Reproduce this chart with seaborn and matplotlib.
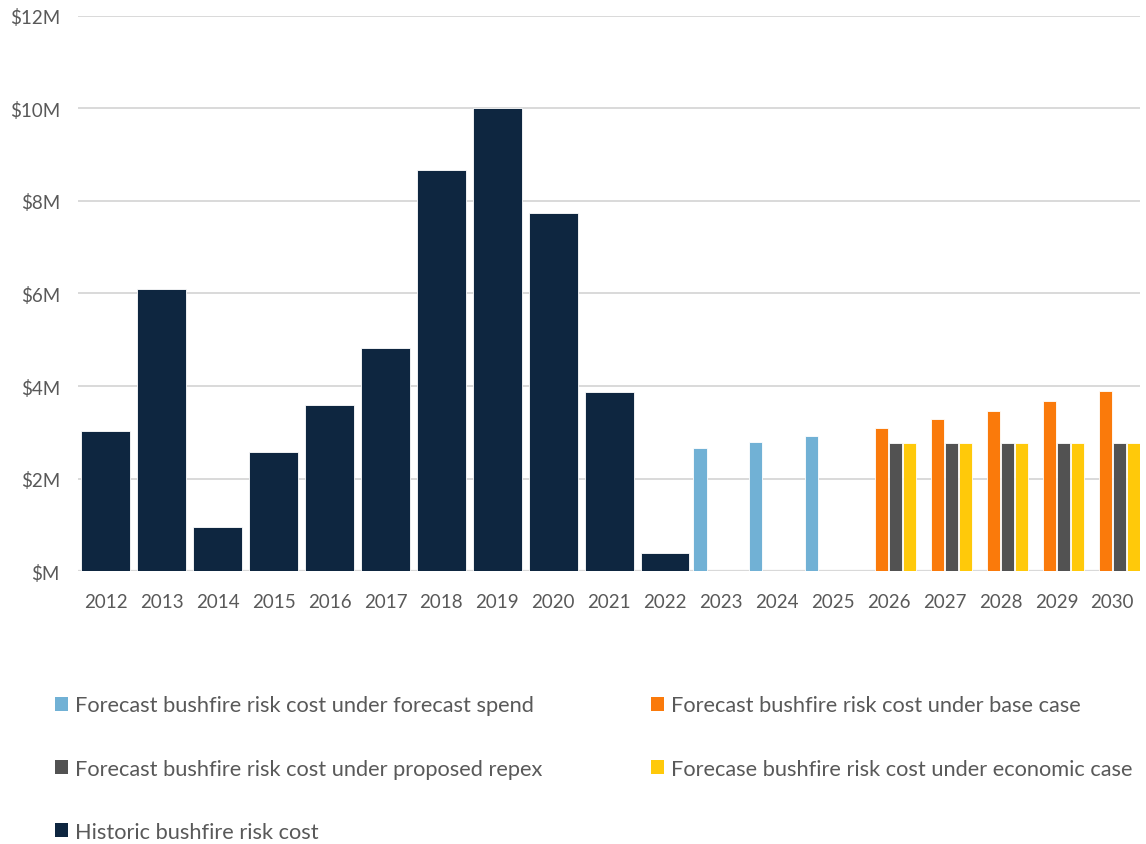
import pandas as pd
import numpy as np
import matplotlib
matplotlib.use('Agg')
import matplotlib.pyplot as plt
import seaborn as sns
from matplotlib.patches import Patch

sns.set_style('white')
plt.rcParams['font.family'] = ['Lato', 'DejaVu Sans']

years = [str(y) for y in range(2012, 2031)]

# values in $M
hist_years = [str(y) for y in range(2012, 2023)]
historic = [3.03, 6.10, 0.96, 2.58, 3.59, 4.82, 8.67, 10.01, 7.74, 3.87, 0.40]

spend_years = ['2023', '2024', '2025']
forecast_spend = [2.66, 2.79, 2.93]

case_years = ['2026', '2027', '2028', '2029', '2030']
base_case = [3.10, 3.29, 3.47, 3.68, 3.89]
proposed_repex = [2.77, 2.77, 2.77, 2.77, 2.77]
economic_case = [2.77, 2.77, 2.77, 2.77, 2.77]

lab_spend = 'Forecast bushfire risk cost under forecast spend'
lab_base = 'Forecast bushfire risk cost under base case'
lab_repex = 'Forecast bushfire risk cost under proposed repex'
lab_econ = 'Forecase bushfire risk cost under economic case'
lab_hist = 'Historic bushfire risk cost'

colors = {
    lab_spend: '#71B1D5',
    lab_base: '#FA7A0B',
    lab_repex: '#525252',
    lab_econ: '#FFC90A',
    lab_hist: '#0E2640',
}

fc = pd.concat([
    pd.DataFrame({'year': spend_years, 'value': forecast_spend, 'series': lab_spend}),
    pd.DataFrame({'year': case_years, 'value': base_case, 'series': lab_base}),
    pd.DataFrame({'year': case_years, 'value': proposed_repex, 'series': lab_repex}),
    pd.DataFrame({'year': case_years, 'value': economic_case, 'series': lab_econ}),
])
hist = pd.DataFrame({'year': hist_years, 'value': historic})

fig = plt.figure(figsize=(11.46, 8.45), dpi=100)
ax = fig.add_axes([0.068, 0.323, 0.927, 0.657])

hue_order = [lab_spend, lab_base, lab_repex, lab_econ]
sns.barplot(data=fc, x='year', y='value', hue='series', order=years,
            hue_order=hue_order, palette=colors, width=1.0, gap=0.06,
            dodge=True, legend=False, ax=ax, edgecolor='white', linewidth=0.6,
            saturation=1)
sns.barplot(data=hist, x='year', y='value', order=years, color=colors[lab_hist],
            width=0.875, ax=ax, edgecolor='white', linewidth=0.6, saturation=1)
for p in ax.patches:
    p.set_alpha(1)

ax.set_xlim(-0.5, 18.5)
ax.set_ylim(0, 12)
ax.set_yticks(np.arange(0, 13, 2))
ax.set_yticklabels(['$M' if v == 0 else f'${v}M' for v in range(0, 13, 2)])
ax.yaxis.grid(True, color='#D9D9D9', linewidth=1.4)
ax.set_axisbelow(True)
for s in ax.spines.values():
    s.set_visible(False)
ax.axhline(0, color='#D9D9D9', linewidth=1.6, zorder=0.5)
ax.set_xlabel('')
ax.set_ylabel('')
ax.tick_params(axis='both', length=0, labelsize=13.5, colors='#595959')
ax.tick_params(axis='y', pad=13)
ax.tick_params(axis='x', pad=16)

order = [lab_spend, lab_repex, lab_hist, lab_base, lab_econ]
handles = [Patch(facecolor=colors[k], edgecolor='none') for k in order]
fig.legend(handles, order, loc='upper left', bbox_to_anchor=(0.031, 0.199),
           ncol=2, frameon=False, fontsize=15.7, labelcolor='#595959',
           handlelength=0.6, handleheight=0.6, handletextpad=0.3,
           columnspacing=5.0, labelspacing=1.98)

fig.savefig('out.png', dpi=100)
